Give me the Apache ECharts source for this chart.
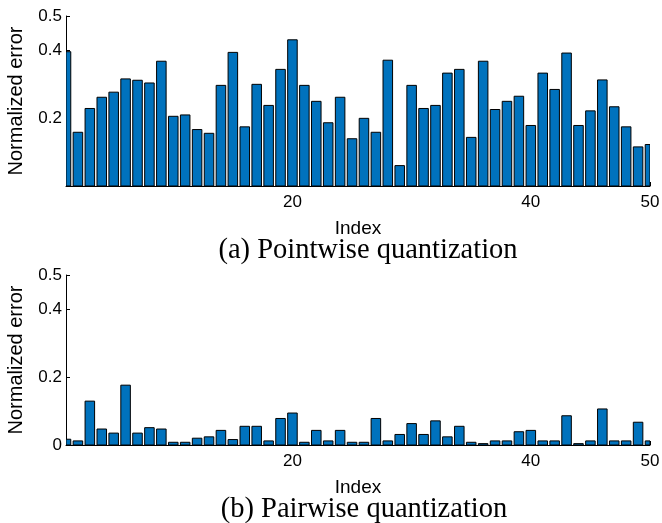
<!DOCTYPE html>
<html>
<head>
<meta charset="utf-8">
<style>
  html, body { margin: 0; padding: 0; background: #fff; }
  #chart { width: 662px; height: 523px; }
</style>
<script src="https://cdn.jsdelivr.net/npm/echarts@6/dist/echarts.min.js"></script>
</head>
<body>
<div id="chart"></div>
<script>
// index 1..50
const indexList = [1, 2, 3, 4, 5, 6, 7, 8, 9, 10, 11, 12, 13, 14, 15, 16, 17, 18, 19, 20,
  21, 22, 23, 24, 25, 26, 27, 28, 29, 30, 31, 32, 33, 34, 35, 36, 37, 38, 39, 40,
  41, 42, 43, 44, 45, 46, 47, 48, 49, 50]

// (a) pointwise quantization
const pointwiseErr = [0.395, 0.158, 0.228, 0.261, 0.276, 0.315, 0.311, 0.303, 0.367, 0.205,
  0.209, 0.166, 0.155, 0.296, 0.393, 0.174, 0.299, 0.237, 0.343, 0.430,
  0.296, 0.249, 0.186, 0.261, 0.139, 0.199, 0.158, 0.370, 0.060, 0.296,
  0.228, 0.237, 0.332, 0.343, 0.143, 0.367, 0.225, 0.249, 0.264, 0.178,
  0.332, 0.284, 0.391, 0.178, 0.221, 0.312, 0.233, 0.174, 0.115, 0.122]

// (b) pairwise quantization
const pairwiseErr = [0.017, 0.012, 0.129, 0.047, 0.035, 0.176, 0.035, 0.051, 0.047, 0.008,
  0.008, 0.020, 0.024, 0.043, 0.016, 0.055, 0.055, 0.012, 0.078, 0.094,
  0.008, 0.043, 0.012, 0.043, 0.008, 0.008, 0.078, 0.012, 0.031, 0.063,
  0.031, 0.071, 0.024, 0.055, 0.008, 0.004, 0.012, 0.012, 0.039, 0.043,
  0.012, 0.012, 0.086, 0.004, 0.012, 0.106, 0.012, 0.012, 0.067, 0.012]

const xTicks = [20, 40, 50]
const yTicksTop = [0.2, 0.4, 0.5]
const yTicksBottom = [0, 0.2, 0.4, 0.5]
const captions = ['(a) Pointwise quantization', '(b) Pairwise quantization']

const sans = 'Liberation Sans'
const barColor = '#0072BD'
const barFrac = 0.8 // matlab default bar width

function makeX(gridIndex) {
  return {
    type: 'value',
    gridIndex: gridIndex,
    min: 1,
    max: 50,
    name: 'Index',
    nameLocation: 'middle',
    nameGap: 33,
    nameTextStyle: { fontFamily: sans, fontSize: 19, color: '#000' },
    axisLine: { show: true, lineStyle: { color: '#000', width: 1 } },
    axisTick: { show: true, inside: true, length: 4, customValues: xTicks, lineStyle: { color: '#000' } },
    axisLabel: { customValues: xTicks, margin: 8, fontFamily: sans, fontSize: 17, color: '#000' },
    splitLine: { show: false }
  }
}

function makeY(gridIndex, ticks) {
  return {
    type: 'value',
    gridIndex: gridIndex,
    min: 0,
    max: 0.5,
    name: 'Normalized error',
    nameLocation: 'middle',
    nameGap: 40,
    nameTextStyle: { fontFamily: sans, fontSize: 20, color: '#000' },
    axisLine: { show: true, lineStyle: { color: '#000', width: 1 } },
    axisTick: { show: true, inside: true, length: 4, customValues: ticks, lineStyle: { color: '#000' } },
    axisLabel: {
      customValues: ticks,
      margin: 4,
      fontFamily: sans,
      fontSize: 17,
      color: '#000',
      formatter: (v) => (v === 0 ? '0' : String(v))
    },
    splitLine: { show: false }
  }
}

// bars drawn through the axis scales, clipped to the plot box like matlab does
function renderBar(params, api) {
  const x = api.value(0)
  const y = api.value(1)
  const p0 = api.coord([x - barFrac / 2, y])
  const p1 = api.coord([x + barFrac / 2, 0])
  const cs = params.coordSys
  const shape = echarts.graphic.clipRectByRect(
    { x: p0[0], y: p0[1], width: p1[0] - p0[0], height: p1[1] - p0[1] },
    { x: cs.x, y: cs.y, width: cs.width, height: cs.height }
  )
  return shape && {
    type: 'rect',
    shape: shape,
    style: { fill: barColor, stroke: '#000', lineWidth: 1 }
  }
}

function makeSeries(idx, values) {
  return {
    type: 'custom',
    xAxisIndex: idx,
    yAxisIndex: idx,
    data: indexList.map((x, i) => [x, values[i]]),
    encode: { x: 0, y: 1 },
    renderItem: renderBar,
    clip: true,
    silent: true,
    animation: false
  }
}

const captionStyle = {
  fontFamily: 'Liberation Serif',
  fontSize: 28.5,
  fill: '#000',
  textAlign: 'center',
  textVerticalAlign: 'middle'
}

const chart = echarts.init(document.getElementById('chart'), null, { renderer: 'canvas' })
chart.setOption({
  backgroundColor: '#fff',
  animation: false,
  graphic: [
    { type: 'text', x: 368, y: 251, style: Object.assign({ text: captions[0] }, captionStyle) },
    { type: 'text', x: 364, y: 510, style: Object.assign({ text: captions[1] }, captionStyle) }
  ],
  grid: [
    { left: 66, right: 12, top: 16, height: 170, outerBoundsMode: 'none' },
    { left: 66, right: 12, top: 275, height: 170, outerBoundsMode: 'none' }
  ],
  xAxis: [makeX(0), makeX(1)],
  yAxis: [makeY(0, yTicksTop), makeY(1, yTicksBottom)],
  series: [makeSeries(0, pointwiseErr), makeSeries(1, pairwiseErr)]
})
</script>
</body>
</html>
